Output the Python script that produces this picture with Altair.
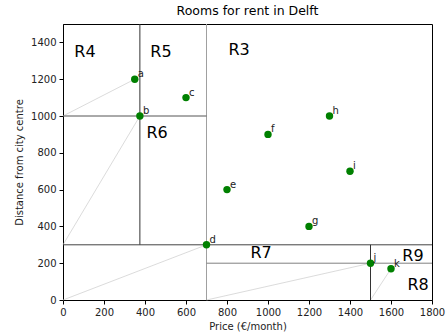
import altair as alt
import pandas as pd

# Points
names = ["a", "b", "c", "d", "e", "f", "g", "h", "i", "j", "k"]
prices = [350, 375, 600, 700, 800, 1000, 1200, 1300, 1400, 1500, 1600]
distances = [1200, 1000, 1100, 300, 600, 900, 400, 1000, 700, 200, 170]

# Region divider lines (x1, y1, x2, y2, style)
seg_x1 = [375, 700, 0, 0, 700, 1500]
seg_y1 = [1500, 1500, 1000, 300, 200, 300]
seg_x2 = [375, 700, 700, 1800, 1800, 1500]
seg_y2 = [300, 0, 1000, 300, 200, 0]
seg_col = ["#333333", "#a0a0a0", "#555555", "#444444", "#808080", "#333333"]

# Thin guide lines
guide_x1 = [0, 0, 0, 700, 1500]
guide_y1 = [1000, 300, 0, 0, 0]
guide_x2 = [350, 375, 700, 1500, 1600]
guide_y2 = [1200, 1000, 300, 200, 170]

# Region labels
reg_names = ["R4", "R5", "R3", "R6", "R7", "R9", "R8"]
reg_x = [107, 478, 859, 459, 966, 1707, 1732]
reg_y = [1346, 1346, 1357, 906, 255, 239, 81]

x_ticks = [0, 200, 400, 600, 800, 1000, 1200, 1400, 1600, 1800]
y_ticks = [0, 200, 400, 600, 800, 1000, 1200, 1400]

FONT = "DejaVu Sans"

pts = pd.DataFrame({"name": names, "price": prices, "dist": distances})
segs = pd.DataFrame({"x1": seg_x1, "y1": seg_y1, "x2": seg_x2, "y2": seg_y2, "c": seg_col})
guides = pd.DataFrame({"x1": guide_x1, "y1": guide_y1, "x2": guide_x2, "y2": guide_y2})
regs = pd.DataFrame({"r": reg_names, "x": reg_x, "y": reg_y})

xs = alt.Scale(domain=[0, 1800], nice=False, zero=False)
ys = alt.Scale(domain=[0, 1500], nice=False, zero=False)

common = dict(grid=False, tickSize=4, labelFontSize=10, titleFontSize=10, labelColor="#222",
              titleColor="#222", titleFontWeight="normal", domainColor="#000", tickColor="#000",
              labelPadding=3, format="d", labelOverlap=False, labelFlush=False)
xax = alt.Axis(values=x_ticks, tickCount=len(x_ticks), title="Price (€/month)",
               titlePadding=4, **common)
yax = alt.Axis(values=y_ticks, tickCount=len(y_ticks), title="Distance from city centre",
               titlePadding=6, **common)


def X(f):
    return alt.X(f, type="quantitative", scale=xs, axis=xax)


def Y(f):
    return alt.Y(f, type="quantitative", scale=ys, axis=yax)


guide_layer = alt.Chart(guides).mark_rule(color="#cccccc", strokeWidth=0.7).encode(
    x=X("x1"), y=Y("y1"), x2="x2:Q", y2="y2:Q")

seg_layer = alt.Chart(segs).mark_rule(strokeWidth=1).encode(
    x=X("x1"), y=Y("y1"), x2="x2:Q", y2="y2:Q", color=alt.Color("c:N", scale=None))

pt_layer = alt.Chart(pts).mark_circle(size=55, color="#008000", opacity=1).encode(
    x=X("price"), y=Y("dist"))

lbl_layer = alt.Chart(pts).mark_text(align="left", baseline="alphabetic", dx=3, dy=-2,
                                     fontSize=10, font=FONT, color="#222").encode(
    x=X("price"), y=Y("dist"), text="name:N")

reg_layer = alt.Chart(regs).mark_text(align="center", baseline="middle", fontSize=16,
                                      font=FONT, color="#000").encode(
    x=X("x"), y=Y("y"), text="r:N")

chart = alt.layer(guide_layer, seg_layer, pt_layer, lbl_layer, reg_layer).properties(
    width=369, height=276,
    title=alt.TitleParams("Rooms for rent in Delft", fontSize=12.5, fontWeight="normal",
                          font=FONT, color="#000", offset=6),
    autosize=alt.AutoSizeParams(type="none"),
    padding={"left": 63, "top": 24, "right": 15, "bottom": 36},
    background="white",
).configure_view(stroke="#000", strokeWidth=1).configure_axis(
    labelFont=FONT, titleFont=FONT)

chart.save("out.html", embed_options={"renderer": "svg", "actions": False})
